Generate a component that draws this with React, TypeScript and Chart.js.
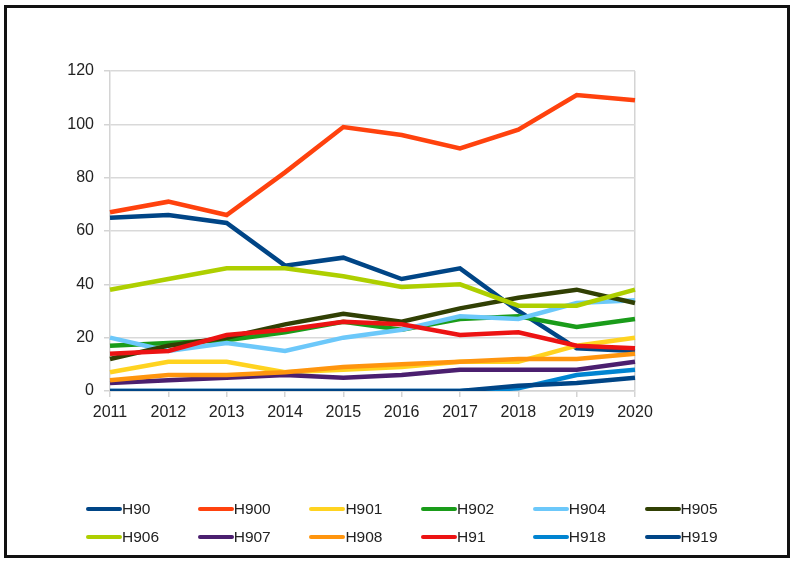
import React, { useEffect, useRef } from "react";
import { Chart, registerables } from "chart.js";

Chart.register(...registerables);

const years = ["2011", "2012", "2013", "2014", "2015", "2016", "2017", "2018", "2019", "2020"];
const seriesNames = ["H90", "H900", "H901", "H902", "H904", "H905", "H906", "H907", "H908", "H91", "H918", "H919"];
const seriesColors = ["#004586", "#ff420e", "#ffd320", "#1a9c1a", "#6cc8fa", "#314004", "#aecf00", "#4b1f6f", "#ff950e", "#ec1313", "#0084d1", "#004586"];

const H90 = [65, 66, 63, 47, 50, 42, 46, 30, 16, 15];
const H900 = [67, 71, 66, 82, 99, 96, 91, 98, 111, 109];
const H901 = [7, 11, 11, 7, 8, 9, 11, 11, 17, 20];
const H902 = [17, 18, 19, 22, 26, 23, 27, 28, 24, 27];
const H904 = [20, 15, 18, 15, 20, 23, 28, 27, 33, 34];
const H905 = [12, 17, 20, 25, 29, 26, 31, 35, 38, 33];
const H906 = [38, 42, 46, 46, 43, 39, 40, 32, 32, 38];
const H907 = [3, 4, 5, 6, 5, 6, 8, 8, 8, 11];
const H908 = [4, 6, 6, 7, 9, 10, 11, 12, 12, 14];
const H91 = [14, 15, 21, 23, 26, 25, 21, 22, 17, 16];
const H918 = [0, 0, 0, 0, 0, 0, 0, 1, 6, 8];
const H919 = [0, 0, 0, 0, 0, 0, 0, 2, 3, 5];

const seriesValues = [H90, H900, H901, H902, H904, H905, H906, H907, H908, H91, H918, H919];
const yTicks = [0, 20, 40, 60, 80, 100, 120];

const FONT = "'Liberation Sans', Arial, sans-serif";

export default function App() {
  const canvasRef = useRef<HTMLCanvasElement | null>(null);

  useEffect(() => {
    const canvas = canvasRef.current;
    if (!canvas) return;
    const chart = new Chart(canvas, {
      type: "line",
      data: {
        labels: years,
        datasets: seriesNames.map((name, i) => ({
          label: name,
          data: seriesValues[i],
          borderColor: seriesColors[i],
          backgroundColor: seriesColors[i],
          borderWidth: 4.5,
          pointRadius: 0,
          tension: 0,
          fill: false,
          order: -i,
        })),
      },
      options: {
        animation: false,
        responsive: false,
        devicePixelRatio: 1,
        layout: { padding: { left: 0, top: 71, right: 158, bottom: 144 } },
        plugins: { legend: { display: false }, tooltip: { enabled: false } },
        scales: {
          x: {
            type: "category",
            offset: false,
            afterFit: (s: any) => { s.height = 30; },
            grid: {
              drawOnChartArea: true,
              color: (ctx: any) => (ctx.index === years.length - 1 ? "#d4d4d4" : "rgba(0,0,0,0)"),
              tickColor: "#d4d4d4",
              tickLength: 6,
              lineWidth: 1.5,
            },
            border: { display: true, color: "#d4d4d4", width: 1.5 },
            ticks: { color: "#222", font: { family: FONT, size: 16 }, padding: 6, maxRotation: 0, autoSkip: false },
          },
          y: {
            min: 0,
            max: 120,
            afterFit: (s: any) => { s.width = 110; },
            afterBuildTicks: (s: any) => { s.ticks = yTicks.map((v) => ({ value: v })); },
            grid: { color: "#d9d9d9", lineWidth: 1.5, tickLength: 6, tickColor: "#d4d4d4" },
            border: { display: true, color: "#d4d4d4", width: 1.5 },
            ticks: { color: "#222", font: { family: FONT, size: 16 }, padding: 10 },
          },
        },
      },
    });
    return () => chart.destroy();
  }, []);

  return (
    <div style={{ position: "fixed", left: 0, top: 0, width: 793, height: 565, background: "#fff", overflow: "hidden" }}>
      <canvas ref={canvasRef} width={793} height={565} style={{ position: "absolute", left: 0, top: 0, width: 793, height: 565 }} />
      <div style={{ position: "absolute", left: 4, top: 5, width: 786, height: 553, border: "3px solid #111", boxSizing: "border-box", pointerEvents: "none" }} />
      {seriesNames.map((name, i) => {
        const col = i % 6;
        const row = Math.floor(i / 6);
        return (
          <div key={name} style={{ position: "absolute", left: 86 + col * 111.7, top: 509 + row * 28 - 10, height: 20, display: "flex", alignItems: "center", fontFamily: FONT, fontSize: 15.5, color: "#222" }}>
            <span style={{ display: "inline-block", width: 36, height: 4.5, borderRadius: 3, background: seriesColors[i] }} />
            <span>{name}</span>
          </div>
        );
      })}
    </div>
  );
}
